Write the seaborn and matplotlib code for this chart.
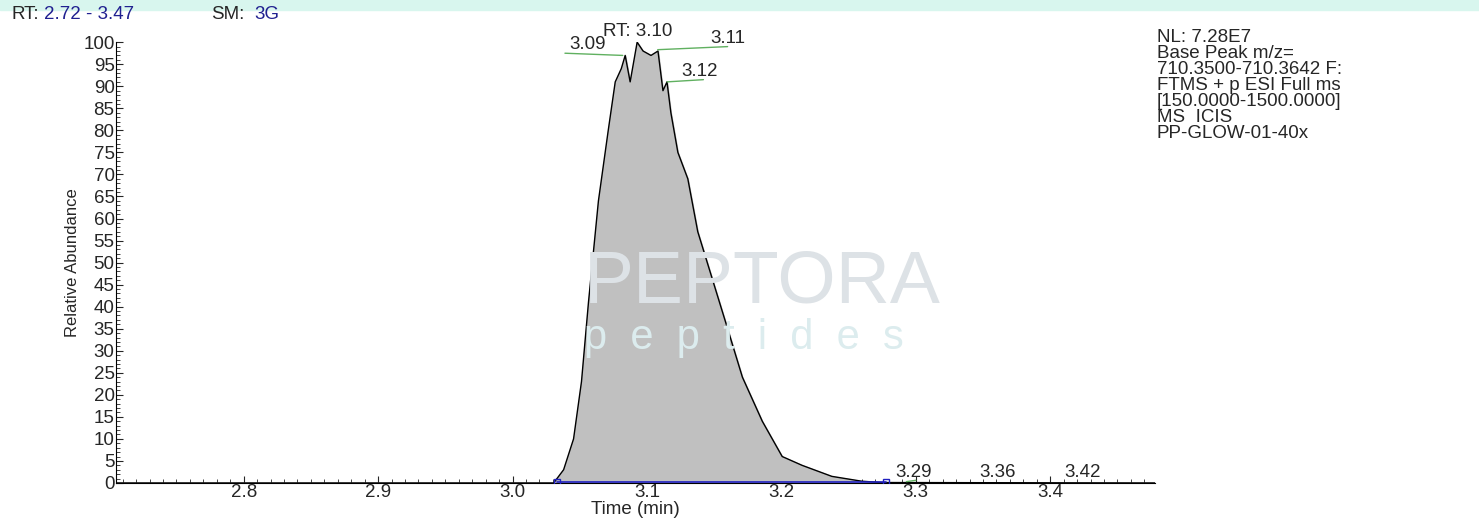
import matplotlib
matplotlib.use('Agg')
import matplotlib.pyplot as plt
import numpy as np
import pandas as pd
import seaborn as sns
from matplotlib.ticker import MultipleLocator

sns.set_style('white')
plt.rcParams['font.family'] = ['Liberation Sans', 'DejaVu Sans']

times = [2.705, 3.0306, 3.038, 3.0454, 3.0513, 3.0565, 3.0639, 3.0712, 3.0764, 3.0809,
         3.0838, 3.0875, 3.0927, 3.0971, 3.103, 3.1082, 3.1119, 3.1149, 3.1178, 3.123,
         3.1304, 3.1378, 3.1489, 3.16, 3.171, 3.1858, 3.2006, 3.2154, 3.2375, 3.2597,
         3.2745, 3.478]
abund = [0, 0, 3, 10, 23, 41, 64, 80, 91, 94,
         97, 91, 100, 98, 97, 98, 89, 91, 84, 75,
         69, 57, 46, 35, 24, 14, 6, 4, 1.5, 0.4,
         0.1, 0]
peak_labels = ['3.09', 'RT: 3.10', '3.11', '3.12', '3.29', '3.36', '3.42']
label_x = [3.056, 3.093, 3.160, 3.139, 3.298, 3.361, 3.424]
label_y = [97.5, 100.5, 99, 91.5, 0.5, 0.5, 0.5]
df = pd.DataFrame({'t': times, 'a': abund})

fig = plt.figure(figsize=(14.79, 5.21), dpi=100)
fig.patches.append(plt.Rectangle((0, 0.981), 1, 0.019, transform=fig.transFigure,
                                 color='#d8f6ee', zorder=0))
ax = fig.add_axes([0.0784, 0.073, 0.7026, 0.846])
ax.fill_between(df['t'], df['a'], color='#c0c0c0', zorder=1)
sns.lineplot(data=df, x='t', y='a', color='black', lw=1, ax=ax, zorder=2)
ax.plot([3.033, 3.278], [0.3, 0.3], color='#2020c0', lw=1.2, zorder=3)
ax.plot([3.033, 3.278], [0.3, 0.3], 's', mfc='none', mec='#2020c0', ms=5, zorder=3)

ax.set_xlim(2.705, 3.478)
ax.set_ylim(0, 100)
ax.set_yticks(range(0, 101, 5))
ax.yaxis.set_minor_locator(MultipleLocator(1))
ax.set_xticks([2.8, 2.9, 3.0, 3.1, 3.2, 3.3, 3.4])
ax.xaxis.set_minor_locator(MultipleLocator(0.01))
ax.tick_params(which='major', direction='in', length=5, labelsize=13.5, left=True, bottom=True, pad=1)
ax.tick_params(which='minor', direction='in', length=3, left=True, bottom=True)
for s in ['top', 'right']:
    ax.spines[s].set_visible(False)
for s in ['left', 'bottom']:
    ax.spines[s].set_color('black')
ax.set_xlabel('Time (min)', fontsize=13.5, labelpad=0)
ax.set_ylabel('Relative Abundance', fontsize=12, labelpad=2)

for lab, x, y in zip(peak_labels, label_x, label_y):
    ax.text(x, y, lab, fontsize=13.5, ha='center', va='bottom', clip_on=False)
ax.plot([3.039, 3.082], [97.5, 97], color='#60b060', lw=1, clip_on=False)
ax.plot([3.108, 3.16], [98.3, 99], color='#60b060', lw=1, clip_on=False)
ax.plot([3.115, 3.142], [91, 91.5], color='#60b060', lw=1, clip_on=False)
ax.plot([3.293, 3.300], [0.3, 0.6], color='#60b060', lw=1, clip_on=False)

fig.text(0.008, 0.955, 'RT:', fontsize=13.5, va='bottom')
fig.text(0.030, 0.955, '2.72 - 3.47', fontsize=13.5, va='bottom', color='#202090')
fig.text(0.143, 0.955, 'SM:', fontsize=13.5, va='bottom')
fig.text(0.172, 0.955, '3G', fontsize=13.5, va='bottom', color='#202090')

fig.text(0.782, 0.945, 'NL: 7.28E7\nBase Peak m/z=\n710.3500-710.3642 F:\nFTMS + p ESI Full ms\n[150.0000-1500.0000]\nMS  ICIS\nPP-GLOW-01-40x',
         fontsize=13.5, va='top', linespacing=0.93)

fig.text(0.395, 0.42, 'PEPTORA', fontsize=54, color='#dde2e6', zorder=0)
fig.text(0.395, 0.33, 'p  e  p  t  i  d  e  s', fontsize=30, color='#dcecee', zorder=0)

fig.savefig('out.png', dpi=100)
